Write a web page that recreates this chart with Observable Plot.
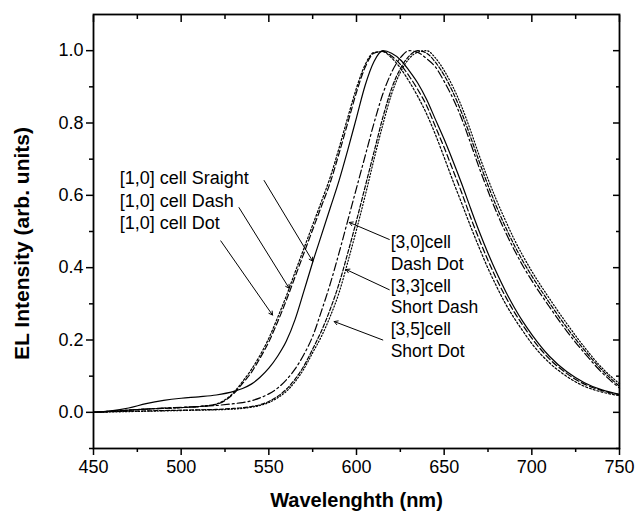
<!DOCTYPE html>
<html><head><meta charset="utf-8">
<script src="https://cdn.jsdelivr.net/npm/d3@7"></script>
<script src="https://cdn.jsdelivr.net/npm/@observablehq/plot@0.6"></script>
<style>body{margin:0;background:#fff;} svg{font-family:"Liberation Sans",Arial,sans-serif;}</style>
</head><body><div id="chart"></div>
<script>
const wavelength = [450,460,470,480,490,500,510,520,530,535,540,545,550,555,560,565,570,575,580,585,590,595,600,605,610,615,620,625,630,635,640,645,650,655,660,665,670,675,680,685,690,695,700,710,720,730,740,750];

const cell10Straight = [0.000,0.004,0.012,0.024,0.033,0.039,0.043,0.048,0.058,0.066,0.078,0.097,0.122,0.155,0.197,0.257,0.335,0.415,0.490,0.565,0.640,0.725,0.815,0.905,0.970,1.000,0.993,0.975,0.945,0.910,0.865,0.810,0.755,0.695,0.632,0.565,0.500,0.440,0.385,0.335,0.290,0.250,0.215,0.155,0.112,0.082,0.062,0.050];
const cell10Dash = [0.000,0.003,0.006,0.009,0.011,0.013,0.016,0.022,0.052,0.080,0.110,0.150,0.195,0.250,0.310,0.375,0.440,0.505,0.570,0.635,0.715,0.800,0.885,0.955,0.993,0.998,0.985,0.962,0.930,0.892,0.848,0.790,0.732,0.670,0.607,0.540,0.478,0.420,0.367,0.320,0.277,0.240,0.205,0.148,0.107,0.078,0.060,0.049];
const cell10Dot = [0.000,0.003,0.006,0.009,0.011,0.013,0.016,0.023,0.055,0.085,0.118,0.158,0.205,0.262,0.322,0.388,0.453,0.518,0.583,0.650,0.730,0.815,0.897,0.962,0.995,0.997,0.980,0.952,0.915,0.873,0.825,0.768,0.705,0.640,0.578,0.515,0.455,0.398,0.347,0.300,0.260,0.224,0.190,0.137,0.099,0.072,0.056,0.046];
const cell30DashDot = [0.000,0.003,0.006,0.009,0.012,0.014,0.016,0.019,0.024,0.027,0.032,0.040,0.051,0.067,0.090,0.120,0.160,0.210,0.280,0.355,0.440,0.530,0.620,0.710,0.800,0.880,0.940,0.980,1.000,0.995,0.978,0.955,0.915,0.868,0.812,0.745,0.676,0.612,0.552,0.498,0.449,0.404,0.364,0.292,0.224,0.164,0.110,0.067];
const cell33ShortDash = [0.000,0.002,0.003,0.004,0.005,0.006,0.007,0.008,0.011,0.013,0.016,0.021,0.030,0.044,0.064,0.092,0.128,0.175,0.225,0.285,0.355,0.440,0.530,0.625,0.720,0.815,0.895,0.950,0.985,1.000,0.993,0.968,0.932,0.885,0.828,0.762,0.693,0.628,0.567,0.512,0.462,0.417,0.377,0.303,0.234,0.172,0.117,0.072];
const cell35ShortDot = [0.000,0.001,0.002,0.003,0.004,0.005,0.006,0.007,0.009,0.011,0.014,0.019,0.027,0.040,0.058,0.085,0.120,0.165,0.210,0.265,0.330,0.415,0.505,0.600,0.700,0.795,0.880,0.940,0.978,0.996,1.000,0.980,0.945,0.900,0.845,0.780,0.710,0.645,0.585,0.530,0.478,0.432,0.390,0.315,0.245,0.180,0.123,0.079];

const xTicks = [450,500,550,600,650,700,750];
const xMinor = [475,525,575,625,675,725];
const yTicks = [0.0,0.2,0.4,0.6,0.8,1.0];
const yMinor = [-0.1,0.1,0.3,0.5,0.7,0.9];

const xTitle = "Wavelenghth (nm)";
const yTitle = "EL Intensity (arb. units)";

// annotations (data coordinates)
const leftLabels = ["[1,0] cell Sraight","[1,0] cell Dash","[1,0] cell Dot"];
const leftLabelX = [465,465,465];
const leftLabelY = [0.646,0.583,0.522];
const rightLabels = ["[3,0]cell","Dash Dot","[3,3]cell","Short Dash","[3,5]cell","Short Dot"];
const rightLabelX = [619.5,619.5,619.5,619.5,619.5,619.5];
const rightLabelY = [0.469,0.409,0.348,0.290,0.228,0.168];
const arrowX1 = [547.3,533.0,522.6,618.7,618.7,615.0];
const arrowY1 = [0.641,0.566,0.474,0.478,0.339,0.200];
const arrowX2 = [575.0,561.6,552.1,595.9,594.0,587.3];
const arrowY2 = [0.418,0.343,0.269,0.525,0.395,0.251];

const seriesList = [
  {key:"s", values: cell10Straight},
  {key:"d", values: cell10Dash},
  {key:"o", values: cell10Dot},
  {key:"dd", values: cell30DashDot},
  {key:"sd", values: cell33ShortDash},
  {key:"so", values: cell35ShortDot}
];
const dashStyle = {s: null, d: "6,3", o: "2,2", dd: "8,3,2,3", sd: "4,2", so: "1.2,2"};

const lineMarks = seriesList.map(s => Plot.line(
  wavelength.map((w,i) => ({w, v: s.values[i]})),
  {x: "w", y: "v", stroke: "black", strokeWidth: 1.2, curve: "monotone-x",
   strokeDasharray: dashStyle[s.key] ?? undefined}
));

const leftAnn = leftLabels.map((t,i) => ({t, x: leftLabelX[i], y: leftLabelY[i]}));
const rightAnn = rightLabels.map((t,i) => ({t, x: rightLabelX[i], y: rightLabelY[i]}));
const arrows = arrowX1.map((x1,i) => ({x1, y1: arrowY1[i], x2: arrowX2[i], y2: arrowY2[i]}));

const fmt = d3.format(".1f");
const blank = () => "";
const chart = Plot.plot({
  width: 637, height: 513,
  marginLeft: 93, marginRight: 18, marginTop: 14, marginBottom: 65,
  style: {color: "black", background: "white", fontFamily: "Liberation Sans, Arial, sans-serif"},
  x: {domain: [450, 750]},
  y: {domain: [-0.1, 1.1]},
  marks: [
    Plot.axisX({anchor: "bottom", ticks: xTicks, tickSize: 7, tickPadding: 5, fontSize: 18, label: null, strokeWidth: 1.5}),
    Plot.axisX({anchor: "bottom", ticks: xMinor, tickSize: 4, tickFormat: blank, label: null, strokeWidth: 1.5}),
    Plot.axisX({anchor: "top", ticks: xTicks, tickSize: 7, dy: 7, tickFormat: blank, label: null, strokeWidth: 1.5}),
    Plot.axisX({anchor: "top", ticks: xMinor, tickSize: 4, dy: 4, tickFormat: blank, label: null, strokeWidth: 1.5}),
    Plot.axisY({anchor: "left", ticks: yTicks, tickSize: 7, tickPadding: 3, fontSize: 18, tickFormat: fmt, label: null, strokeWidth: 1.5}),
    Plot.axisY({anchor: "left", ticks: yMinor, tickSize: 4, tickFormat: blank, label: null, strokeWidth: 1.5}),
    Plot.axisY({anchor: "right", ticks: yTicks, tickSize: 7, dx: -7, tickFormat: blank, label: null, strokeWidth: 1.5}),
    Plot.axisY({anchor: "right", ticks: yMinor, tickSize: 4, dx: -4, tickFormat: blank, label: null, strokeWidth: 1.5}),
    Plot.frame({stroke: "black", strokeWidth: 1.8}),
    ...lineMarks,
    Plot.arrow(arrows, {x1: "x1", y1: "y1", x2: "x2", y2: "y2", stroke: "black", strokeWidth: 1, headLength: 6, bend: 0}),
    Plot.text(leftAnn, {x: "x", y: "y", text: "t", textAnchor: "start", fontSize: 18, fill: "black"}),
    Plot.text(rightAnn, {x: "x", y: "y", text: "t", textAnchor: "start", fontSize: 17.5, fill: "black"}),
    Plot.text([xTitle], {frameAnchor: "bottom", dy: 52, textAnchor: "middle", lineAnchor: "middle", fontSize: 20, fontWeight: "bold", fill: "black"}),
    Plot.text([yTitle], {frameAnchor: "left", dx: -71, dy: 12, rotate: -90, textAnchor: "middle", lineAnchor: "middle", fontSize: 21, fontWeight: "bold", fill: "black"})
  ]
});
document.getElementById("chart").appendChild(chart);
</script>
</body></html>
